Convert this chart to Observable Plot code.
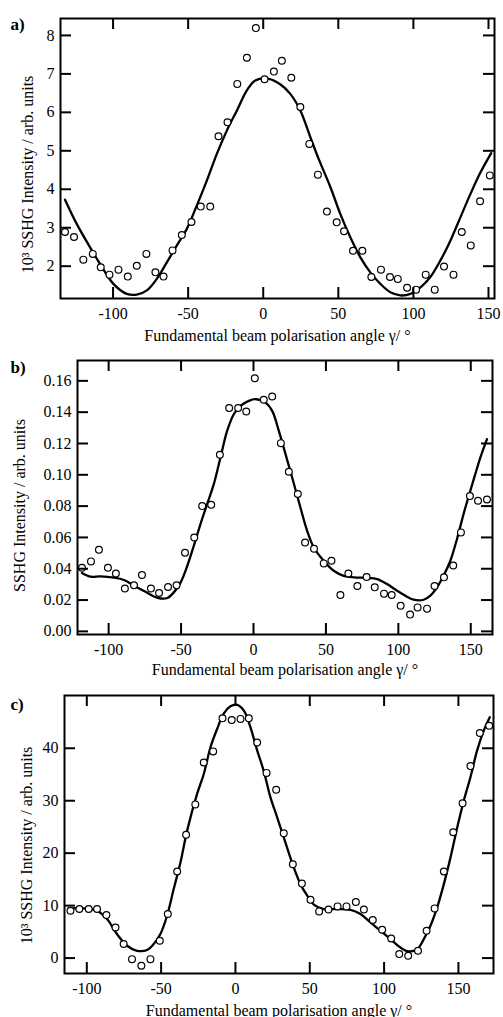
<!DOCTYPE html>
<html><head><meta charset="utf-8">
<script src="https://cdn.jsdelivr.net/npm/d3@7"></script>
<script src="https://cdn.jsdelivr.net/npm/@observablehq/plot@0.6"></script>
<style>
body{margin:0;background:#fff}
svg{display:block}
</style>
</head><body><div id="chart"></div>
<script>
// ---- Panel a ----
const aPtsX = [-132,-126,-119.8,-113.5,-108.2,-102.4,-96.4,-90.2,-84.2,-77.8,-71.8,-66.4,-60.4,-54.2,-47.8,-41.6,-35.3,-29.8,-23.8,-17.3,-10.9,-4.9,0.9,7.1,12.4,18.7,24.7,30.7,36.4,42.4,48.9,53.8,59.8,66,72,78.4,84.4,89.6,95.8,101.8,108.2,114.2,120.4,126.7,132.2,138.2,144.4,150.9];
const aPtsY = [2.89,2.76,2.17,2.32,1.97,1.78,1.91,1.73,2.01,2.32,1.84,1.73,2.41,2.81,3.15,3.55,3.55,5.38,5.74,6.74,7.42,8.19,6.86,7.06,7.34,6.90,6.14,5.18,4.38,3.42,3.14,2.91,2.40,2.40,1.72,1.91,1.72,1.67,1.44,1.39,1.78,1.39,1.99,1.78,2.89,2.54,3.69,4.36];
const aFitX = [-132,-124.2,-115.3,-108.7,-99.8,-90.9,-84.2,-77.5,-70.9,-64.2,-57.5,-50.9,-44.2,-37.5,-30.9,-24.2,-17.5,-10.9,-5.3,3.6,11.3,18,24.7,31.3,36.9,44.7,51.3,58,64.7,71.3,78,84.7,91.3,98,104.7,111.3,118,124.7,131.3,138,144.7,151.8];
const aFitY = [3.73,3.10,2.49,2.06,1.54,1.28,1.26,1.37,1.67,2.10,2.54,2.97,3.58,4.23,4.92,5.53,6.05,6.57,6.83,6.87,6.73,6.48,6.05,5.36,4.79,4.06,3.36,2.75,2.23,1.84,1.54,1.32,1.24,1.28,1.45,1.72,2.15,2.67,3.27,3.88,4.44,4.94];
const aXTicks = [-100,-50,0,50,100,150];
const aYTicks = [2,3,4,5,6,7,8];

// ---- Panel b ----
const bPtsX = [-118.4,-112.2,-106.7,-100.5,-95,-88.8,-82.5,-77,-70.8,-65.2,-59,-53.1,-47.3,-40.9,-35.4,-29.2,-23.2,-16.8,-10.6,-5,0.9,7.1,12.9,18.9,24.4,30.6,35.6,41.8,48.5,53.8,60,65.5,71.7,78.1,83.7,90.1,95.4,101.6,108.1,113.3,119.8,125,131.5,137.9,143.2,149.4,155,161.2];
const bPtsY = [0.0406,0.0447,0.0521,0.0406,0.037,0.0274,0.0294,0.036,0.0274,0.0245,0.0283,0.0294,0.0502,0.060,0.080,0.0809,0.1128,0.1426,0.1426,0.1404,0.1617,0.1479,0.150,0.1202,0.1019,0.0877,0.0568,0.0528,0.0434,0.0451,0.0232,0.037,0.029,0.0347,0.0281,0.0241,0.0232,0.0164,0.0107,0.0153,0.0145,0.029,0.0345,0.0421,0.0632,0.0864,0.0834,0.0842];
const bFitX = [-118.4,-112.4,-105.6,-96.3,-89.4,-82.5,-75.6,-68.8,-64.1,-59.5,-55,-50.3,-45.7,-41.2,-36.6,-32,-27.4,-22.8,-18.2,-13.6,-9,-3.2,1.1,8.3,12.9,17.5,22.1,26.7,32.4,37,41.6,48.5,55.4,62.3,69.2,78.4,85.3,92.2,99.1,106,110.6,117.5,122.1,126.7,131.2,135.9,140.5,145,149.7,153.1,156.6,161.2];
const bFitY = [0.0373,0.0349,0.0351,0.0343,0.0328,0.0292,0.0258,0.0223,0.021,0.0213,0.0249,0.0313,0.0419,0.0547,0.0685,0.0813,0.094,0.111,0.128,0.1387,0.144,0.1472,0.1483,0.1461,0.1408,0.128,0.1132,0.0983,0.0791,0.0643,0.0536,0.0451,0.0387,0.0355,0.0345,0.0341,0.0334,0.0302,0.026,0.0221,0.0202,0.0202,0.0228,0.0281,0.0355,0.0451,0.059,0.0749,0.0898,0.1004,0.111,0.1228];
const bXTicks = [-100,-50,0,50,100,150];
const bYTicks = [0,0.02,0.04,0.06,0.08,0.10,0.12,0.14,0.16];

// ---- Panel c ----
const cPtsX = [-111,-105,-98.7,-93.1,-86.8,-80.7,-75.2,-69.6,-63.3,-57.2,-50.9,-45.5,-39.2,-33.2,-27,-21.3,-15,-8.7,-2.5,3.4,9,14.6,20.9,27.4,32.5,38.6,44.7,50.5,56.3,62.6,68.7,74.7,81,86.4,92.4,98.7,104.8,110.2,116.2,122.8,128.6,134,140.2,146.5,152.8,158.1,164.4,170.7];
const cPtsY = [9.03,9.35,9.35,9.35,8.2,5.84,2.67,-0.2,-1.47,-0.2,3.3,8.4,16.5,23.5,29.3,37.3,39.4,45.7,45.4,45.6,45.7,41.1,35.3,32.1,23.8,17.9,14.2,11.1,8.9,9.27,9.85,9.85,10.7,9.27,7.25,5.4,3.74,0.76,0.44,1.39,5.2,9.47,16.5,24.0,29.5,36.6,42.9,44.3];
const cFitX = [-112.2,-102.1,-93.1,-86.4,-79.7,-72.9,-66.2,-59.4,-55,-50.5,-46,-41.5,-37,-32.5,-25.8,-21.3,-16.8,-12.3,-7.9,-3.4,0.7,5.6,10.1,14.6,19,23.6,28.1,32.5,39.2,43.7,48.3,52.7,59.4,68.4,77.4,84.1,90.8,97.6,104.3,111,116.6,122.3,126.7,131.2,135.7,140.2,144.7,149.2,153.6,158.1,162.6,167.1,171.1];
const cFitY = [9.47,9.47,9.03,7.44,4.58,2.35,1.39,1.53,2.67,4.58,8.07,13.2,18.2,24.3,31.3,35.1,40.2,43.7,46.6,48.0,48.3,47.2,44.0,39.6,35.7,30.6,26.8,23.0,17.3,14.1,11.9,10.2,9.35,9.35,9.2,8.4,6.8,5.2,3.6,2.0,1.26,1.7,3.6,6.16,9.66,14.1,19.2,24.9,30.0,34.5,39.6,43.4,45.9];
const cXTicks = [-100,-50,0,50,100,150];
const cYTicks = [0,10,20,30,40];

const xTitle = "Fundamental beam polarisation angle γ/ °";
const yTitles = ["10³ SSHG Intensity / arb. units", "SSHG Intensity / arb. units", "10³ SSHG Intensity / arb. units"];
const panelTags = ["a)", "b)", "c)"];

const TICK = 11;
const W = 503;
const FONT = "Liberation Serif, Times New Roman, serif";

function panel(cfg) {
  const pts = cfg.px.map((x, i) => ({x, y: cfg.py[i]}));
  const fit = cfg.fx.map((x, i) => ({x, y: cfg.fy[i]}));
  const fw = W - cfg.ml - cfg.mr;          // frame width in px
  const fh = cfg.height - cfg.mt - cfg.mb; // frame height in px
  const fmtX = d => String(d);
  return Plot.plot({
    width: W, height: cfg.height,
    marginLeft: cfg.ml, marginRight: cfg.mr, marginTop: cfg.mt, marginBottom: cfg.mb,
    x: {domain: cfg.xd},
    y: {domain: cfg.yd},
    style: {fontFamily: FONT, fontSize: "16px", background: "#fff", overflow: "visible"},
    marks: [
      Plot.line(fit, {x: "x", y: "y", stroke: "#000", strokeWidth: 2.3, curve: "catmull-rom"}),
      Plot.dot(pts, {x: "x", y: "y", r: 3.4, stroke: "#000", strokeWidth: 1.2, fill: "#fff"}),
      // inward ticks on all four sides
      Plot.tickX(cfg.xt, {x: d => d, insetTop: fh - TICK, stroke: "#000", strokeWidth: 2}),
      Plot.tickX(cfg.xt, {x: d => d, insetBottom: fh - TICK, stroke: "#000", strokeWidth: 2}),
      Plot.tickY(cfg.yt, {y: d => d, insetRight: fw - TICK, stroke: "#000", strokeWidth: 2}),
      Plot.tickY(cfg.yt, {y: d => d, insetLeft: fw - TICK, stroke: "#000", strokeWidth: 2}),
      // tick labels
      Plot.axisX({anchor: "bottom", ticks: cfg.xt, tickSize: 0, tickPadding: 9, tickFormat: fmtX, label: null, fontSize: 16, fill: "#000"}),
      Plot.axisY({anchor: "left", ticks: cfg.yt, tickSize: 0, tickPadding: 6, tickFormat: cfg.yf, label: null, fontSize: 16, fill: "#000"}),
      Plot.frame({stroke: "#000", strokeWidth: 2}),
      Plot.text([xTitle], {text: d => d, frameAnchor: "bottom", lineAnchor: "middle", textAnchor: "middle", dy: cfg.xlDy, fontSize: 16, fill: "#000"}),
      Plot.text([cfg.yTitle], {text: d => d, frameAnchor: "left", lineAnchor: "middle", textAnchor: "middle", rotate: -90, dx: cfg.ylDx, dy: cfg.ylDy, fontSize: 16, fill: "#000"}),
      Plot.text([cfg.tag], {text: d => d, frameAnchor: "top-left", lineAnchor: "middle", textAnchor: "start", dx: cfg.tagDx, dy: cfg.tagDy, fontSize: 17, fontWeight: "bold", fill: "#000"})
    ]
  });
}

const root = document.getElementById("chart");
root.append(panel({
  height: 340, ml: 60, mr: 9, mt: 18, mb: 42,
  xd: [-135, 154], yd: [1.16, 8.44],
  px: aPtsX, py: aPtsY, fx: aFitX, fy: aFitY,
  xt: aXTicks, yt: aYTicks, yf: d => String(d),
  xlDy: 37, yTitle: yTitles[0], ylDx: -33, ylDy: 16, tag: panelTags[0], tagDx: -50, tagDy: 6
}));
root.append(panel({
  height: 330, ml: 77, mr: 11, mt: 20, mb: 36,
  xd: [-121.5, 165], yd: [-0.002, 0.173],
  px: bPtsX, py: bPtsY, fx: bFitX, fy: bFitY,
  xt: bXTicks, yt: bYTicks, yf: d3.format(".2f"),
  xlDy: 35, yTitle: yTitles[1], ylDx: -58, ylDy: 8, tag: panelTags[1], tagDx: -67, tagDy: 7
}));
root.append(panel({
  height: 347, ml: 64, mr: 10, mt: 25, mb: 44,
  xd: [-115, 173.6], yd: [-2.94, 50.06],
  px: cPtsX, py: cPtsY, fx: cFitX, fy: cFitY,
  xt: cXTicks, yt: cYTicks, yf: d => String(d),
  xlDy: 37, yTitle: yTitles[2], ylDx: -38, ylDy: 11, tag: panelTags[2], tagDx: -54, tagDy: 9
}));
</script>
</body></html>
